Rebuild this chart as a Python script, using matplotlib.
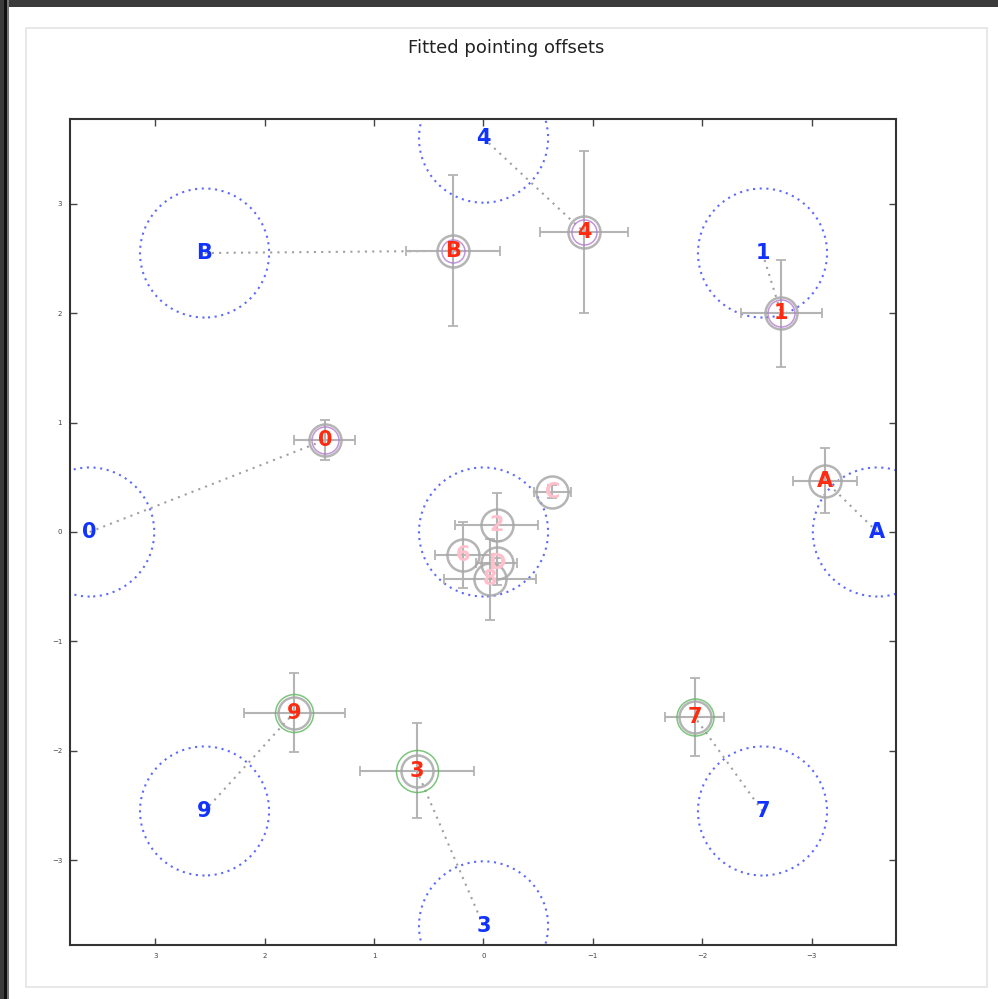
import matplotlib
matplotlib.use("Agg")
import matplotlib.pyplot as plt
from matplotlib.patches import Circle, Rectangle

# nominal pointing positions (degrees) and their labels
target_names = ["0", "B", "4", "1", "A", "7", "3", "9"]
target_x = [3.6, 2.55, 0.0, -2.55, -3.6, -2.55, 0.0, 2.55]
target_y = [0.0, 2.55, 3.6, 2.55, 0.0, -2.55, -3.6, -2.55]
beam_radius = 0.59

# fitted offsets with 1-sigma errors
fit_names = ["0", "B", "4", "1", "A", "7", "3", "9"]
fit_x = [1.45, 0.28, -0.92, -2.72, -3.12, -1.93, 0.61, 1.73]
fit_y = [0.84, 2.57, 2.74, 2.00, 0.47, -1.69, -2.18, -1.65]
fit_ex = [0.28, 0.43, 0.40, 0.37, 0.29, 0.27, 0.52, 0.46]
fit_ey = [0.18, 0.69, 0.74, 0.49, 0.30, 0.36, 0.43, 0.36]
ring_px = [27, 23, 25, 27, 0, 37, 42, 38]
ring_colors = ["#b57ad0", "#b57ad0", "#b57ad0", "#b57ad0", "none",
               "#5cb85c", "#5cb85c", "#5cb85c"]

# fits that did not converge, all pointed at the centre
bad_names = ["C", "2", "6", "D", "8"]
bad_x = [-0.63, -0.12, 0.19, -0.12, -0.06]
bad_y = [0.37, 0.06, -0.21, -0.28, -0.43]
bad_ex = [0.17, 0.38, 0.25, 0.19, 0.42]
bad_ey = [0.06, 0.30, 0.30, 0.20, 0.37]

DPI = 100
px = 72.0 / DPI

fig = plt.figure(figsize=(9.98, 9.99), dpi=DPI)
W, H = 998, 999

# window chrome and output cell frame, kept behind the axes
fig.patches.append(Rectangle((0, (H - 7) / H), 1, 7 / H, transform=fig.transFigure,
                             facecolor="#3b3b3b", edgecolor="none", zorder=-10))
for x0, w, c in [(0, 4, "#3b3b3b"), (4, 3, "#111111"), (7, 2, "#777777")]:
    fig.patches.append(Rectangle((x0 / W, 0), w / W, 1, transform=fig.transFigure,
                                 facecolor=c, edgecolor="none", zorder=-10))
fig.patches.append(Rectangle((26 / W, (H - 987) / H), 961 / W, 959 / H,
                             transform=fig.transFigure, facecolor="white",
                             edgecolor="#e4e4e4", linewidth=1.2, zorder=-9))

fig.text(506.5 / W, 1 - 48 / H, "Fitted pointing offsets", ha="center", va="center",
         fontsize=13, color="#222222")

ax = fig.add_axes([70 / W, (H - 945) / H, 827 / W, 826 / H])
lim = 3.775
ax.set_xlim(lim, -lim)
ax.set_ylim(-lim, lim)
ax.set_aspect("equal", adjustable="box")

# beam circles around each nominal position, plus the centre
for cx, cy in list(zip(target_x, target_y)) + [(0.0, 0.0)]:
    ax.add_patch(Circle((cx, cy), beam_radius, fill=False, edgecolor="#3344ff",
                        linestyle=(0, (1, 2.2)), linewidth=1.5, alpha=0.8, zorder=2))

# lines from nominal to fitted positions
for tx, ty, fx, fy in zip(target_x, target_y, fit_x, fit_y):
    ax.plot([tx, fx], [ty, fy], linestyle=(0, (1, 2.5)), color="#a0a0a0",
            linewidth=1.5, zorder=3)

ax.errorbar(fit_x + bad_x, fit_y + bad_y, xerr=fit_ex + bad_ex, yerr=fit_ey + bad_ey,
            fmt="none", ecolor="#b4b4b4", elinewidth=1.5, capsize=3.5,
            capthick=1.3, zorder=4)

# grey marker rings
ax.plot(fit_x + bad_x, fit_y + bad_y, "o", markersize=32 * px, markerfacecolor="none",
        markeredgecolor="#a8a8a8", markeredgewidth=1.8, alpha=0.85, zorder=5,
        linestyle="none")

for fx, fy, r, c in zip(fit_x, fit_y, ring_px, ring_colors):
    if r:
        ax.plot(fx, fy, "o", markersize=r * px, markerfacecolor="none",
                markeredgecolor=c, markeredgewidth=1.1, alpha=0.8, zorder=6)

for name, tx, ty in zip(target_names, target_x, target_y):
    ax.text(tx, ty, name, color="#1133ff", fontsize=15, fontweight="bold",
            ha="center", va="center", zorder=7)

for name, fx, fy in zip(fit_names, fit_x, fit_y):
    ax.text(fx, fy, name, color="#ff2a10", fontsize=15, fontweight="bold",
            ha="center", va="center", zorder=8)

for name, bx, by in zip(bad_names, bad_x, bad_y):
    ax.text(bx, by, name, color="#ffc0cb", fontsize=15, fontweight="bold",
            ha="center", va="center", zorder=8)

ax.set_xticks([3, 2, 1, 0, -1, -2, -3])
ax.set_yticks([-3, -2, -1, 0, 1, 2, 3])
ax.tick_params(direction="in", top=True, right=True, length=5, width=1,
               labelsize=5, colors="#444444", pad=6)
for sp in ax.spines.values():
    sp.set_linewidth(1.5)
    sp.set_color("#333333")

fig.savefig("out.png", dpi=DPI)
